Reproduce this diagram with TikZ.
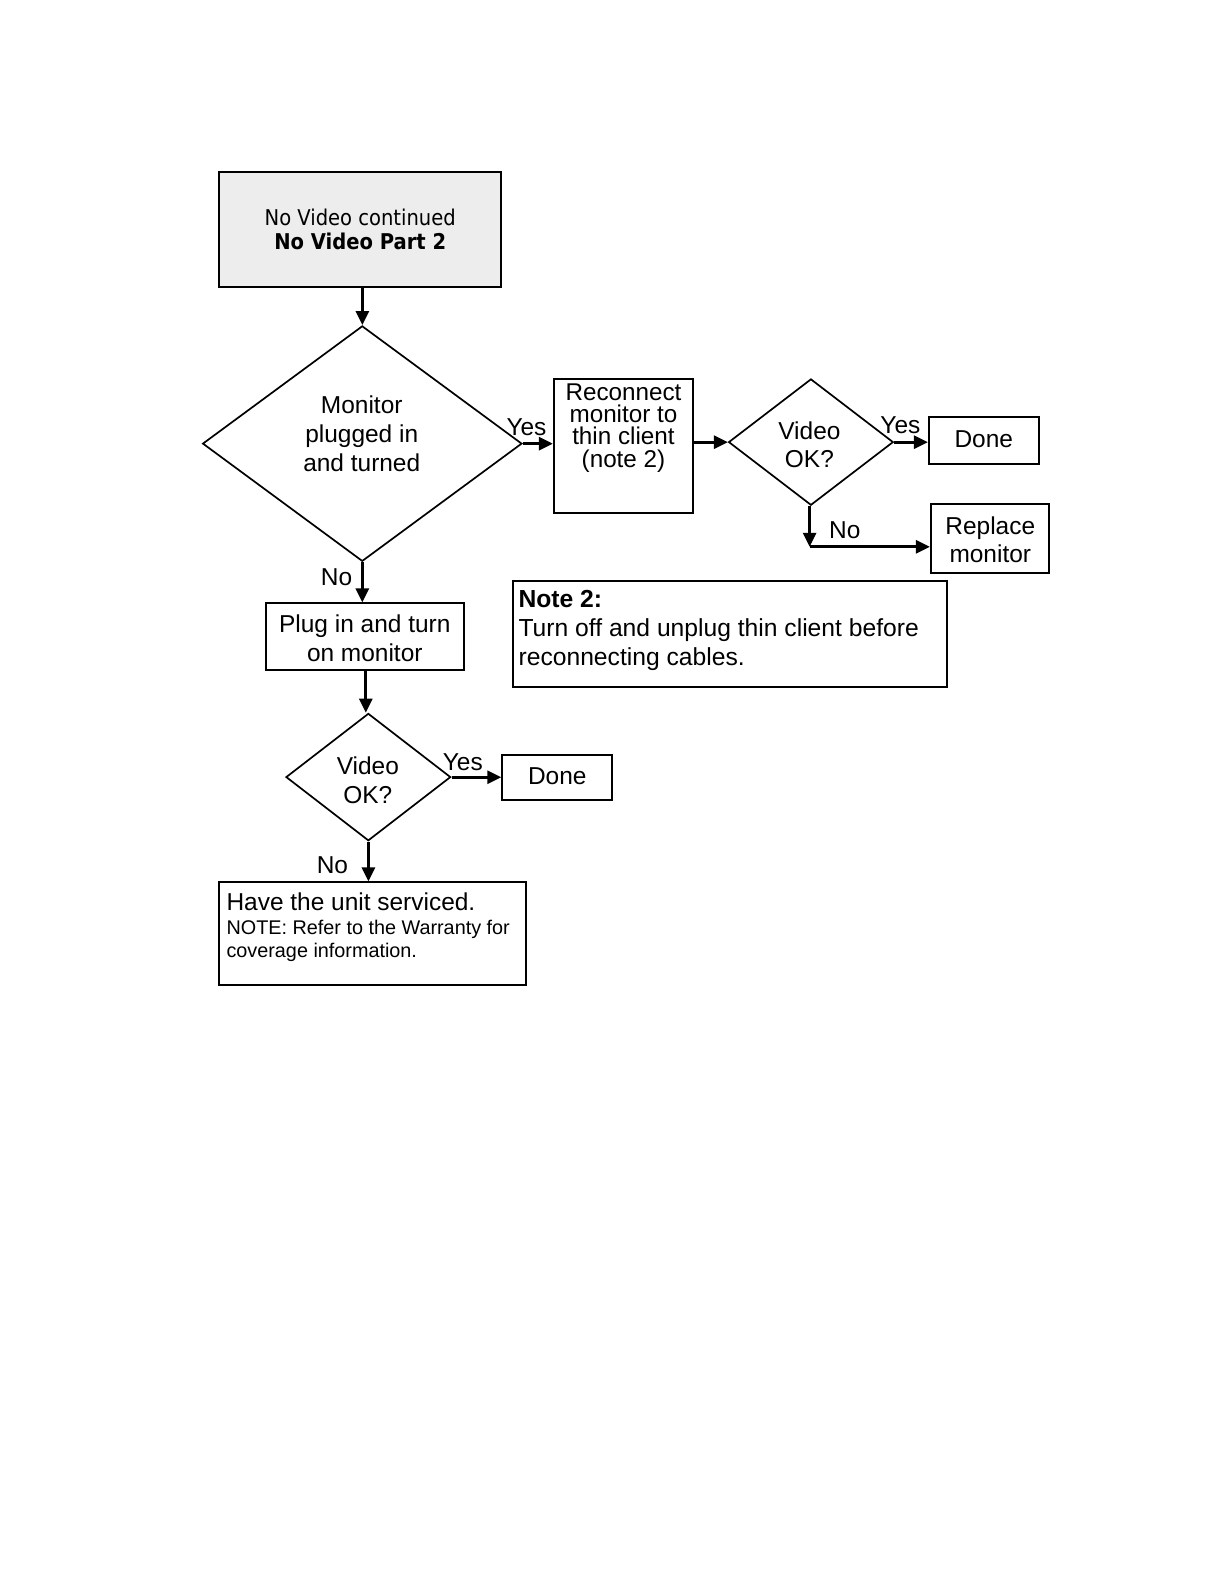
\documentclass[tikz,border=0pt]{standalone}
\usepackage{fontspec}
\setmainfont{Liberation Sans}
\newfontfamily\headfontc{DejaVu Sans Condensed}
\usetikzlibrary{shapes.geometric,arrows.meta}
\begin{document}
\begin{tikzpicture}[x=1pt,y=-1pt,
  box/.style={draw,line width=2pt,inner sep=0pt},
  dia/.style={draw,diamond,line width=1.7pt,inner sep=0pt},
  txt/.style={font=\fontsize{24.2}{28.5}\selectfont,align=center,inner sep=0pt},
  lbl/.style={font=\fontsize{24.2}{26}\selectfont,inner sep=0pt},
  arr/.style={line width=2.8pt,-{Triangle[length=14pt,width=13pt]}}]
\useasboundingbox (0pt,0pt) rectangle (1224pt,-1584pt);
\begin{scope}[scale=1.0105,transform shape]
% boxes
\node[box,fill=black!7,minimum width=279pt,minimum height=114pt] (head) at (356.5,227) {};
\node[inner sep=0pt,align=center,font=\headfontc\fontsize{21.5}{24}\selectfont] (headtxt) at (356.5,227) {No Video continued\\\textbf{No Video Part 2}};
\node[dia,minimum width=316pt,minimum height=233pt] (d1) at (358.5,439) {};
\node[txt] (d1txt) at (358,429) {Monitor\\plugged in\\and turned};
\node[box,minimum width=138pt,minimum height=133pt] (recon) at (617,441.5) {};
\node[txt,font=\fontsize{24}{22}\selectfont] (recontxt) at (617,423.5) {Reconnect\\monitor to\\thin client\\(note 2)};
\node[dia,minimum width=163pt,minimum height=125pt] (d2) at (802.5,437.5) {};
\node[txt,font=\fontsize{24.2}{28}\selectfont] (d2txt) at (801,440) {Video\\OK?};
\node[box,minimum width=109pt,minimum height=46pt] (done1) at (973.5,436) {};
\node[txt] (done1txt) at (973.5,434.5) {Done};
\node[box,minimum width=117pt,minimum height=68pt] (rep) at (979.5,533) {};
\node[txt,font=\fontsize{24.2}{28}\selectfont] (reptxt) at (980,534) {Replace\\monitor};
\node[box,minimum width=429pt,minimum height=105pt] (note) at (722.5,627.5) {};
\node[inner sep=0pt,anchor=base west,font=\fontsize{24.4}{28}\selectfont] (n1) at (513,601.5) {\textbf{Note 2:}};
\node[inner sep=0pt,anchor=base west,font=\fontsize{24.4}{28}\selectfont] (n2) at (513,630) {Turn off and unplug thin client before};
\node[inner sep=0pt,anchor=base west,font=\fontsize{24.4}{28}\selectfont] (n3) at (513,658.5) {reconnecting cables.};
\node[box,minimum width=196pt,minimum height=66pt] (plug) at (361,630) {};
\node[txt,font=\fontsize{24.2}{29}\selectfont] (plugtxt) at (361,631.5) {Plug in and turn\\on monitor};
\node[dia,minimum width=163pt,minimum height=126pt] (d3) at (364.5,769) {};
\node[txt,font=\fontsize{24.2}{28}\selectfont] (d3txt) at (364,772) {Video\\OK?};
\node[box,minimum width=109pt,minimum height=45pt] (done2) at (551.5,769.5) {};
\node[txt] (done2txt) at (551.5,768) {Done};
\node[box,minimum width=304pt,minimum height=102pt] (serv) at (369,924) {};
\node[inner sep=0pt,anchor=base west,font=\fontsize{24.2}{28}\selectfont] (s1) at (224,901.5) {Have the unit serviced.};
\node[inner sep=0pt,anchor=base west,font=\fontsize{19.6}{22}\selectfont] (s2) at (224,925) {NOTE: Refer to the Warranty for};
\node[inner sep=0pt,anchor=base west,font=\fontsize{19.6}{22}\selectfont] (s3) at (224,948) {coverage information.};
% connectors
\draw[arr] (head.south -| d1.north) -- (d1.north);
\draw[arr] (d1.east) -- (d1.east -| recon.west);
\draw[arr] (recon.east |- d2.west) -- (d2.west);
\draw[arr] (d2.east) -- (d2.east -| done1.west);
\coordinate (c2) at (801,541);
\draw[arr] (d2.south -| c2) -- (c2);
\draw[arr] (c2) -- (c2 -| rep.west);
\draw[arr] (d1.south) -- (d1.south |- plug.north);
\draw[arr] (plug.south -| 362,0) -- (d3.north -| 362,0);
\draw[arr] (d3.east) -- (d3.east -| done2.west);
\draw[arr] (d3.south) -- (d3.south |- serv.north);
% labels
\node[lbl] (y1) at (521,423) {Yes};
\node[lbl] (y2) at (891,421) {Yes};
\node[lbl] (y3) at (458,754) {Yes};
\node[lbl] (no1) at (333,571) {No};
\node[lbl] (no2) at (836,525) {No};
\node[lbl] (no3) at (329,856) {No};
% footnote rule
\draw[line width=1.5pt,color=blue!50!black] (127,1575) -- (268,1575);
\end{scope}
\end{tikzpicture}
\end{document}
